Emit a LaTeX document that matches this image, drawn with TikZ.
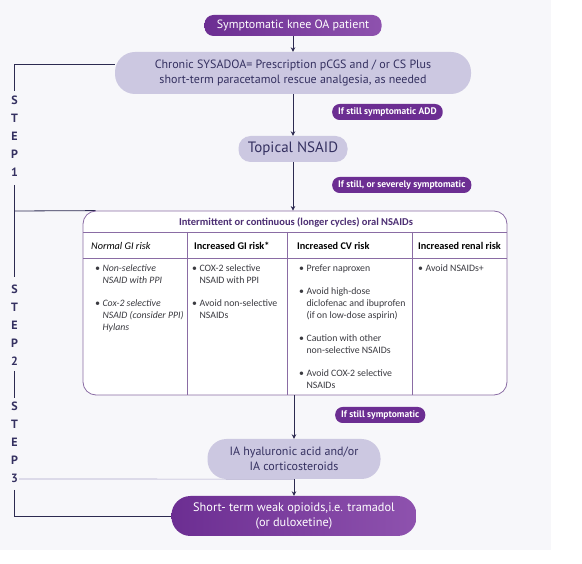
\documentclass[tikz,border=0pt]{standalone}
\usepackage{fontspec}
\setmainfont{Carlito}
\newfontfamily\dinfont{PT Sans}
\usetikzlibrary{arrows.meta,backgrounds}

\definecolor{oapurple}{RGB}{108,46,146}
\definecolor{oapurplelt}{RGB}{142,82,174}
\definecolor{oalilac}{RGB}{204,200,225}
\definecolor{oanavy}{RGB}{44,42,80}
\definecolor{oaink}{RGB}{52,48,96}
\definecolor{oarule}{RGB}{138,108,164}
\definecolor{oagrey}{RGB}{172,166,202}
\definecolor{oatext}{RGB}{58,58,64}
\definecolor{oatitle}{RGB}{76,46,115}
\definecolor{oawash}{RGB}{247,247,250}

\tikzset{
	darkbox/.style={left color=oapurple, right color=oapurplelt, text=white, align=center, inner sep=0pt, font=\dinfont\fontsize{12}{14.5}\selectfont},
	lightbox/.style={fill=oalilac, text=oaink, align=center, inner sep=0pt, font=\dinfont\fontsize{12}{14.5}\selectfont},
	ifpill/.style={fill=oapurple, text=white, anchor=west, rounded corners=7.5pt, minimum height=16pt, inner xsep=6pt, inner ysep=0pt, font=\dinfont\bfseries\fontsize{9.5}{10}\selectfont},
	steplbl/.style={text=oaink, inner sep=0pt, font=\dinfont\bfseries\fontsize{12}{12}\selectfont},
	spine/.style={draw=oanavy, line width=0.8pt, -{Stealth[length=4.5pt,width=4.5pt]}},
	stepline/.style={draw=oanavy, line width=0.8pt},
	nsaidtable/.style={draw=oarule, line width=0.8pt, rounded corners=13pt, fill=white, inner sep=0pt},
	gridline/.style={draw=oarule, line width=0.6pt},
	colhead/.style={anchor=west, inner sep=0pt, font=\bfseries\fontsize{10.25}{12}\selectfont},
	colbody/.style={anchor=north west, inner sep=0pt, align=left, text=oatext, font=\fontsize{9.8}{12}\selectfont}
}

\begin{document}
\begin{tikzpicture}[x=1pt,y=1pt,yscale=-1]

	\useasboundingbox (0,0) rectangle (582,564);
	\begin{scope}[on background layer]
	\fill[oawash] (0,0) rectangle (551,550);
	\end{scope}

	\draw (293,25.5) node [darkbox, rounded corners=9pt, minimum width=177pt, minimum height=21pt] (start) {Symptomatic knee OA patient};
	\draw (293,73) node [lightbox, rounded corners=20pt, minimum width=356pt, minimum height=42pt] (sysadoa) {Chronic SYSADOA= Prescription pCGS and / or CS Plus\\ short-term paracetamol rescue analgesia, as needed};
	\draw (293,149) node [lightbox, rounded corners=12pt, minimum width=109pt, minimum height=26pt, font=\dinfont\fontsize{15}{16}\selectfont] (topical) {Topical NSAID};
	\draw (295,303) node [nsaidtable, minimum width=424pt, minimum height=184pt] (nsaid) {};
	\draw (294,459) node [lightbox, rounded corners=19pt, minimum width=173pt, minimum height=40pt] (ia) {IA hyaluronic acid and/or\\ IA corticosteroids};
	\draw (294,516) node [darkbox, rounded corners=19pt, minimum width=245pt, minimum height=40pt, font=\dinfont\fontsize{12.3}{15.5}\selectfont] (opioid) {Short- term weak opioids,i.e. tramadol\\ (or duloxetine)};

	\draw (332,112) node [ifpill] (ifadd) {If still symptomatic ADD};
	\draw (332,185) node [ifpill] (ifsevere) {If still, or severely symptomatic};
	\draw (335,415) node [ifpill] (ifstill) {If still symptomatic};

	\draw (14.5,100) node [steplbl] (s1a) {S};
	\draw (14.5,118) node [steplbl] (s1b) {T};
	\draw (14.5,136) node [steplbl] (s1c) {E};
	\draw (14.5,154) node [steplbl] (s1d) {P};
	\draw (14.5,172) node [steplbl] (s1e) {1};
	\draw (14.5,289) node [steplbl] (s2a) {S};
	\draw (14.5,307) node [steplbl] (s2b) {T};
	\draw (14.5,325) node [steplbl] (s2c) {E};
	\draw (14.5,343) node [steplbl] (s2d) {P};
	\draw (14.5,361) node [steplbl] (s2e) {2};
	\draw (14.5,406) node [steplbl] (s3a) {S};
	\draw (14.5,424) node [steplbl] (s3b) {T};
	\draw (14.5,442) node [steplbl] (s3c) {E};
	\draw (14.5,460) node [steplbl] (s3d) {P};
	\draw (14.5,478) node [steplbl] (s3e) {3};

	\draw [gridline] (83,232) -- (507,232);
	\draw [gridline] (83,258) -- (507,258);
	\draw [gridline] (187,232) -- (187,395);
	\draw [gridline] (287,232) -- (287,395);
	\draw [gridline] (412,232) -- (412,395);

	\draw (296,222) node [inner sep=0pt, text=oatitle, font=\bfseries\fontsize{10.5}{12}\selectfont] (title) {Intermittent or continuous (longer cycles) oral NSAIDs};
	\draw (91,246) node [colhead, font=\itshape\fontsize{10.25}{12}\selectfont] (normal) {Normal GI risk};
	\draw (194,246) node [colhead] (gi) {Increased GI risk*};
	\draw (297,246) node [colhead] (cv) {Increased CV risk};
	\draw (418,246) node [colhead] (renal) {Increased renal risk};

	\draw (95,262.5) node [colbody, font=\itshape\fontsize{9.8}{12}\selectfont] (normalbody) {\begin{tabular}{@{}l@{\hspace{2.5pt}}l@{}}
		\textbullet & Non-selective\\ & NSAID with PPI\\[11pt]
		\textbullet & Cox-2 selective\\ & NSAID (consider PPI)\\ & Hylans
	\end{tabular}};
	\draw (192,262.5) node [colbody] (gibody) {\begin{tabular}{@{}l@{\hspace{2.5pt}}l@{}}
		\textbullet & COX-2 selective\\ & NSAID with PPI\\[11pt]
		\textbullet & Avoid non-selective\\ & NSAIDs
	\end{tabular}};
	\draw (299,262.5) node [colbody] (cvbody) {\begin{tabular}{@{}l@{\hspace{2.5pt}}l@{}}
		\textbullet & Prefer naproxen\\[11pt]
		\textbullet & Avoid high-dose\\ & diclofenac and ibuprofen\\ & (if on low-dose aspirin)\\[11pt]
		\textbullet & Caution with other\\ & non-selective NSAIDs\\[11pt]
		\textbullet & Avoid COX-2 selective\\ & NSAIDs
	\end{tabular}};
	\draw (418,262.5) node [colbody] (renalbody) {\begin{tabular}{@{}l@{\hspace{2.5pt}}l@{}}
		\textbullet & Avoid NSAIDs+
	\end{tabular}};

	\draw [spine] (start.south) -- (sysadoa.north);
	\draw [spine] (sysadoa.south) -- (topical.north);
	\draw [spine] (topical.south) -- (topical.south |- nsaid.north);
	\draw [spine] (nsaid.south -| ia.north) -- (ia.north);
	\draw [spine] (ia.south) -- (opioid.north);

	\coordinate (b1) at (14.5,64);
	\coordinate (b2) at (14.5,91);
	\coordinate (b3) at (14.5,185);
	\coordinate (b4) at (14.5,211);
	\coordinate (b5) at (14.5,277);
	\coordinate (b6) at (14.5,371);
	\coordinate (b7) at (14.5,398);
	\coordinate (b8) at (19,479);
	\coordinate (b9) at (14.5,490);
	\coordinate (b10) at (14.5,516);
	\begin{scope}[on background layer]
	\draw [stepline] (sysadoa.west |- b1) -- (b1) -- (b2);
	\draw [stepline] (b3) -- (b5);
	\draw [stepline] (b4) -- ([xshift=13pt]nsaid.north west);
	\draw [stepline] (b6) -- (b7);
	\draw [draw=oagrey, line width=0.7pt] (b8) -- (ia.south);
	\draw [stepline] (b9) -- (b10) -- (opioid.west);
	\end{scope}

\end{tikzpicture}
\end{document}
